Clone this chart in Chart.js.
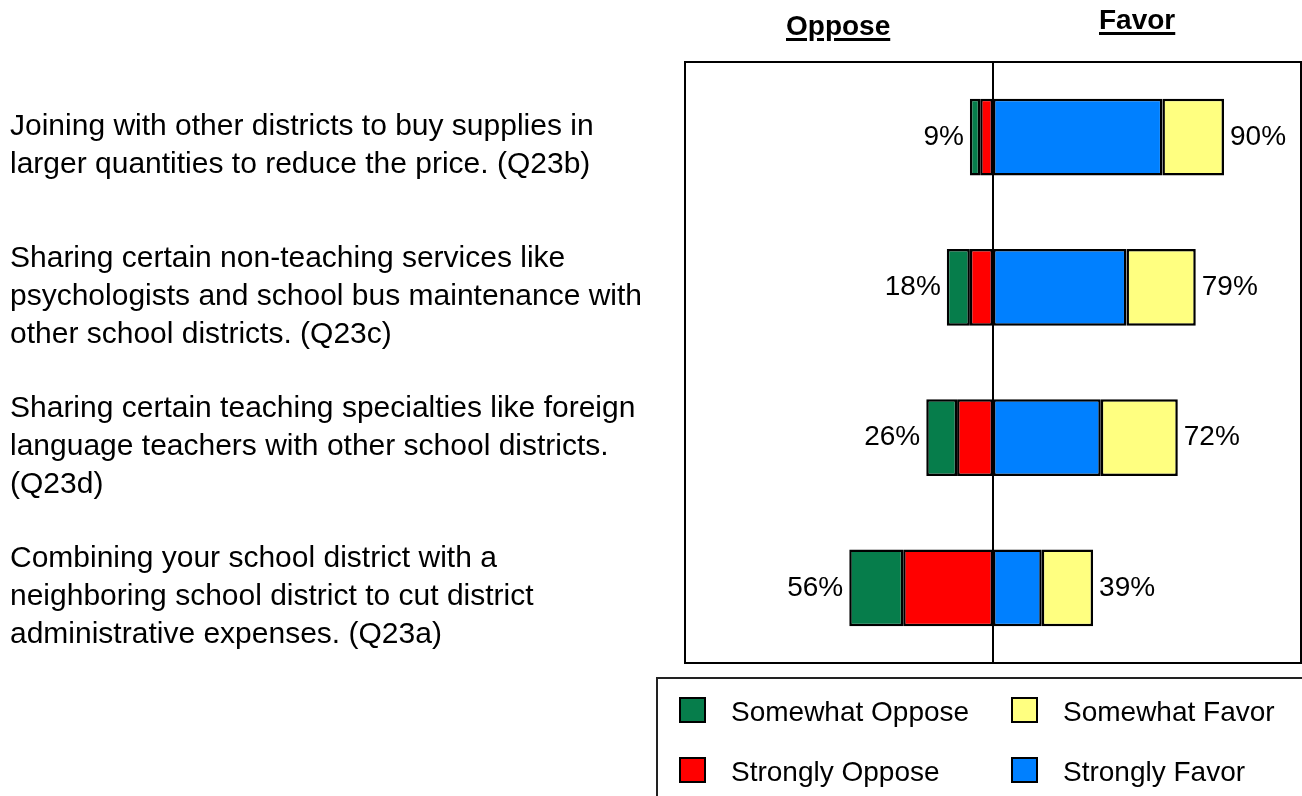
<!DOCTYPE html>
<html>
<head>
<meta charset="utf-8">
<script src="https://cdn.jsdelivr.net/npm/chart.js@4/dist/chart.umd.min.js"></script>
<style>
  html, body { margin: 0; padding: 0; background: #fff; }
  body { width: 1302px; height: 796px; position: relative; overflow: hidden;
         font-family: "Liberation Sans", Arial, sans-serif; color: #000; }
  #wrap { position: absolute; left: 0; top: 0; width: 1302px; height: 796px; }
  .head { position: absolute; font-weight: bold; font-size: 28px; line-height: 28px;
          text-decoration: underline; text-decoration-thickness: 3px; text-underline-offset: 3px; }
  #legend { position: absolute; left: 656px; top: 677px; width: 700px; height: 140px;
            border: 2px solid #222; box-sizing: border-box; }
  .sw { position: absolute; width: 27px; height: 26px; border: 2px solid #000; box-sizing: border-box; }
  .lt { position: absolute; font-size: 28px; line-height: 28px; white-space: nowrap; }
</style>
</head>
<body>
<div id="wrap"><canvas id="chart" width="1302" height="796"></canvas></div>
<div class="head" style="left:786px; top:12px;">Oppose</div>
<div class="head" style="left:1099px; top:6px;">Favor</div>
<div id="legend"></div>

<script>
// Question labels (one entry per line)
var categories = [
    ['Joining with other districts to buy supplies in', 'larger quantities to reduce the price. (Q23b)'],
    ['Sharing certain non-teaching services like', 'psychologists and school bus maintenance with', 'other school districts. (Q23c)'],
    ['Sharing certain teaching specialties like foreign', 'language teachers with other school districts.', '(Q23d)'],
    ['Combining your school district with a', 'neighboring school district to cut district', 'administrative expenses. (Q23a)']
];

// Percentages per response
var somewhatOppose = [4, 9, 12, 21];
var stronglyOppose = [5, 9, 14, 35];
var stronglyFavor  = [66, 52, 42, 19];
var somewhatFavor  = [24, 27, 30, 20];

var opposeTotal = somewhatOppose.map(function(v, i) { return v + stronglyOppose[i]; });
var favorTotal  = stronglyFavor.map(function(v, i) { return v + somewhatFavor[i]; });

var colors = {
    somewhatOppose: '#067D4B',
    stronglyOppose: '#FF0000',
    somewhatFavor:  '#FFFF80',
    stronglyFavor:  '#0080FF'
};

var FONT = '"Liberation Sans", Arial, sans-serif';

// Legend (two columns)
var legendItems = [
    {label: 'Somewhat Oppose', color: colors.somewhatOppose, x: 23, y: 20},
    {label: 'Somewhat Favor',  color: colors.somewhatFavor,  x: 355, y: 20},
    {label: 'Strongly Oppose', color: colors.stronglyOppose, x: 23, y: 80},
    {label: 'Strongly Favor',  color: colors.stronglyFavor,  x: 355, y: 80}
];
var legend = document.getElementById('legend');
legendItems.forEach(function(it) {
    var sw = document.createElement('div');
    sw.className = 'sw';
    sw.style.left = (it.x - 2) + 'px';
    sw.style.top = (it.y - 2) + 'px';
    sw.style.background = it.color;
    legend.appendChild(sw);
    var t = document.createElement('div');
    t.className = 'lt';
    t.style.left = (it.x + 50) + 'px';
    t.style.top = (it.y - 1) + 'px';
    t.textContent = it.label;
    legend.appendChild(t);
});

// Percent labels, zero line and plot frame
var overlay = {
    id: 'overlay',
    afterDatasetsDraw: function(chart) {
        var ctx = chart.ctx, a = chart.chartArea;
        var x = chart.scales.x, y = chart.scales.y;
        ctx.save();
        ctx.font = '28px ' + FONT;
        ctx.fillStyle = '#000';
        ctx.textBaseline = 'middle';
        categories.forEach(function(c, i) {
            var yy = y.getPixelForValue(i);
            ctx.textAlign = 'right';
            ctx.fillText(opposeTotal[i] + '%', x.getPixelForValue(-opposeTotal[i]) - 6, yy);
            ctx.textAlign = 'left';
            ctx.fillText(favorTotal[i] + '%', x.getPixelForValue(favorTotal[i]) + 6, yy);
        });
        var x0 = Math.round(x.getPixelForValue(0));
        ctx.strokeStyle = '#000';
        ctx.lineWidth = 2;
        ctx.beginPath();
        ctx.moveTo(x0, a.top);
        ctx.lineTo(x0, a.bottom);
        ctx.stroke();
        ctx.strokeRect(a.left, a.top, a.right - a.left, a.bottom - a.top);
        ctx.restore();
    }
};

function ds(label, data, color) {
    return {
        label: label,
        data: data,
        backgroundColor: color,
        borderColor: '#000',
        borderWidth: 2.5,
        borderSkipped: false,
        barPercentage: 0.51,
        categoryPercentage: 1
    };
}

var ctx = document.getElementById('chart').getContext('2d');
new Chart(ctx, {
    type: 'bar',
    data: {
        labels: categories,
        datasets: [
            ds('Strongly Oppose', stronglyOppose.map(function(v) { return -v; }), colors.stronglyOppose),
            ds('Somewhat Oppose', somewhatOppose.map(function(v) { return -v; }), colors.somewhatOppose),
            ds('Strongly Favor', stronglyFavor, colors.stronglyFavor),
            ds('Somewhat Favor', somewhatFavor, colors.somewhatFavor)
        ]
    },
    options: {
        indexAxis: 'y',
        responsive: false,
        animation: false,
        layout: { padding: { left: 10, top: 62, right: 1, bottom: 133 } },
        plugins: {
            legend: { display: false },
            tooltip: { enabled: false }
        },
        scales: {
            x: {
                stacked: true,
                min: -120,
                max: 120,
                display: false
            },
            y: {
                stacked: true,
                grid: { display: false },
                border: { display: false },
                afterFit: function(scale) { scale.width = 675; },
                ticks: {
                    crossAlign: 'far',
                    labelOffset: 9,
                    padding: 0,
                    color: '#000',
                    font: { family: FONT, size: 30, lineHeight: '38px' }
                }
            }
        }
    },
    plugins: [overlay]
});
</script>
</body>
</html>
